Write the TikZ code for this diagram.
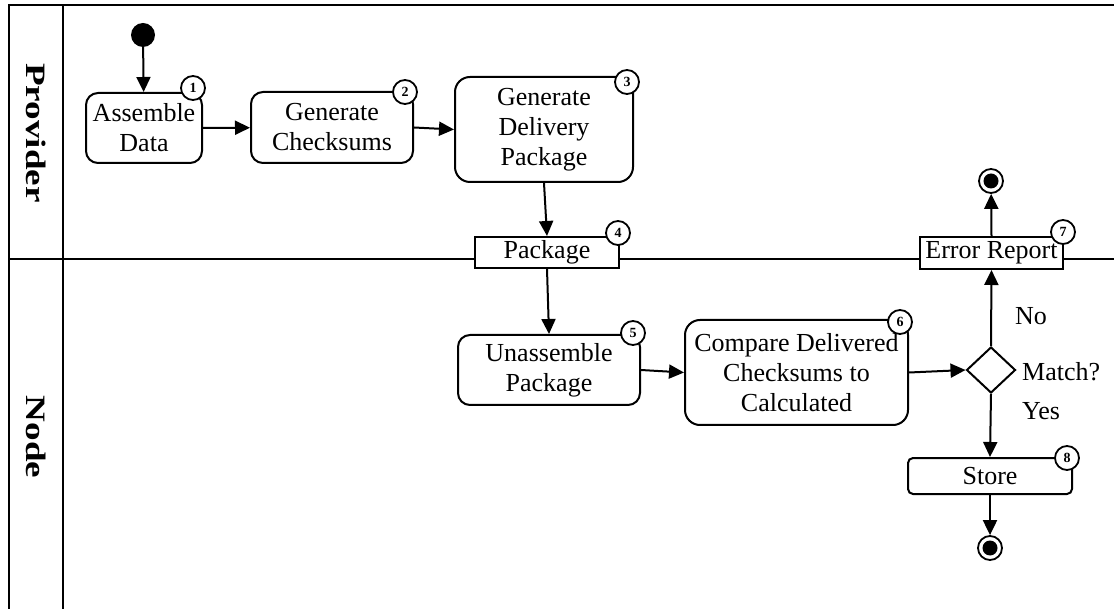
\documentclass[tikz,border=0pt]{standalone}
\usepackage{fontspec}
\setmainfont{Liberation Serif}
\usetikzlibrary{arrows.meta,shapes.geometric}

\tikzset{
  lane/.style={line width=2.3pt},
  act/.style={draw, line width=2pt, rounded corners=12pt, fill=white, align=center,
    font=\fontsize{26}{30}\selectfont, inner sep=0pt},
  obj/.style={draw, line width=2pt, fill=white, align=center,
    font=\fontsize{26}{30}\selectfont, inner sep=0pt},
  num/.style={draw, circle, line width=1.8pt, fill=white, minimum size=24pt, inner sep=0pt,
    font=\fontsize{14}{14}\selectfont\bfseries},
  flow/.style={line width=2pt, -{Triangle[length=15pt,width=14pt]}},
  lbl/.style={font=\fontsize{26}{30}\selectfont, inner sep=0pt},
  hdr/.style={rotate=-90, inner sep=0pt, font=\fontsize{36}{40}\selectfont\bfseries},
  initial/.style={circle, fill=black, minimum size=24pt, inner sep=0pt},
  final/.style={circle, draw, line width=1.8pt, minimum size=24pt, inner sep=0pt,
    path picture={\fill[black] (path picture bounding box.center) circle (7.5pt);}},
  decision/.style={diamond, draw, line width=2pt, fill=white, inner sep=0pt,
    minimum width=49pt, minimum height=46pt}
}

\begin{document}
\begin{tikzpicture}[x=1pt, y=-1pt]
  \useasboundingbox (0,0) rectangle (1114,609);

  % swimlanes
  \draw[lane] (9,609) -- (9,5) -- (1114,5);
  \draw[lane] (63,5) -- (63,609);
  \draw[lane] (9,259) -- (1114,259);
  \node[hdr] (provider) at (36,133) {\scalebox{1.03}[0.78]{Provider}};
  \node[hdr] (nodelane) at (36,437) {\scalebox{1.03}[0.78]{Node}};

  % provider lane
  \node[initial] (start) at (143,35) {};
  \node[act, minimum width=116pt, minimum height=70pt] (assemble) at (144,128) {Assemble\\Data};
  \node[act, minimum width=162pt, minimum height=71pt] (checksums) at (332,127.5) {Generate\\Checksums};
  \node[act, rounded corners=15pt, minimum width=178pt, minimum height=105pt] (delivery) at (544,129.5) {Generate\\Delivery\\Package};

  % objects on the lane border
  \node[obj, minimum width=144pt, minimum height=31pt] (package) at (547,252.5) {Package};
  \node[obj, minimum width=143pt, minimum height=32pt] (report) at (991.5,253) {Error Report};
  \node[final] (endA) at (991,181) {};

  % node lane
  \node[act, minimum width=182pt, minimum height=70pt] (unassemble) at (549,370) {Unassemble\\Package};
  \node[act, rounded corners=15pt, minimum width=223pt, minimum height=105pt] (compare) at (796.5,372.5) {Compare Delivered\\Checksums to\\Calculated};
  \node[decision] (match) at (991,370) {};
  \node[act, rounded corners=5pt, minimum width=164pt, minimum height=36pt] (store) at (990,476) {Store};
  \node[final] (endB) at (990,548) {};

  % step numbers
  \node[num] (n1) at (193,88) {1};
  \node[num] (n2) at (405,92) {2};
  \node[num] (n3) at (627,82) {3};
  \node[num] (n4) at (618,233) {4};
  \node[num] (n5) at (633,333) {5};
  \node[num] (n6) at (900,322) {6};
  \node[num] (n7) at (1063,232) {7};
  \node[num] (n8) at (1067,458) {8};

  % flow
  \draw[flow] (start) -- (assemble);
  \draw[flow] (assemble) -- (checksums);
  \draw[flow] (checksums.east) -- (delivery.west);
  \draw[flow] (delivery.south) -- (package.north);
  \draw[flow] (package.south) -- (unassemble.north);
  \draw[flow] (unassemble.east) -- (compare.west);
  \draw[flow] (compare.east) -- (match.west);
  \draw[flow] (match.north) -- (report.south);
  \draw[flow] (report.north) -- (endA);
  \draw[flow] (match.south) -- (store.north);
  \draw[flow] (store.south) -- (endB);

  % decision labels
  \node[lbl, anchor=west] (matchq) at (1022,372) {Match?};
  \node[lbl] (no) at (1031,316) {No};
  \node[lbl] (yes) at (1041,411) {Yes};
\end{tikzpicture}
\end{document}
